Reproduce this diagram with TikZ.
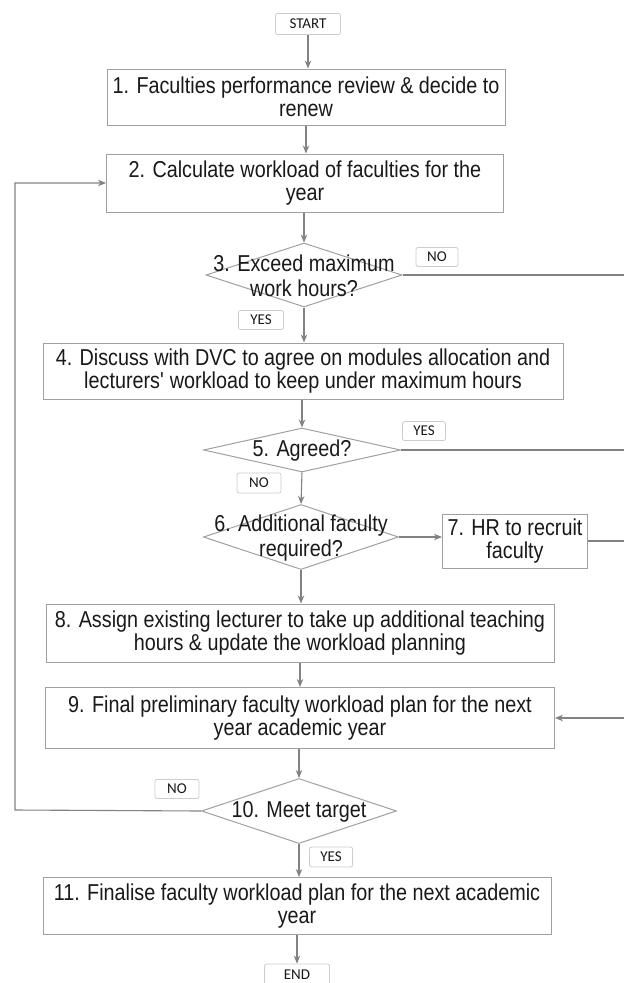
\documentclass[tikz,border=0pt]{standalone}
\usepackage{fontspec}
\setmainfont[FakeStretch=0.86]{Liberation Sans}
\newfontfamily\lblfont{Carlito}
\usetikzlibrary{shapes.geometric,arrows.meta}
\definecolor{boxc}{RGB}{160,160,160}
\definecolor{arrc}{RGB}{130,130,130}
\definecolor{txtc}{RGB}{25,25,25}
\definecolor{lblc}{RGB}{205,205,205}
\begin{document}
\begin{tikzpicture}[x=1pt,y=-1pt,
  procbox/.style={draw=boxc, line width=1pt, fill=white, inner sep=0pt, align=center, text=txtc, font=\fontsize{23}{23.5}\selectfont},
  decbox/.style={draw=boxc, line width=1pt, diamond, inner sep=0pt},
  dectext/.style={align=center, text=txtc, inner sep=0pt, font=\fontsize{23}{25}\selectfont},
  tag/.style={draw=lblc, line width=0.8pt, rounded corners=2pt, fill=white, inner sep=0pt, text=txtc, minimum width=43pt, minimum height=19pt, font=\lblfont\fontsize{15}{16}\selectfont},
  flow/.style={draw=arrc, line width=1.1pt, -{Stealth[length=8pt,width=6.5pt]}},
  plainline/.style={draw=arrc, line width=1.1pt}]
\useasboundingbox (0,0) rectangle (624,983);

\node[tag, minimum width=65pt, minimum height=21pt] (start) at (308,24) {START};
\node[procbox, minimum width=398pt, minimum height=56pt] (b1) at (306,97) {1. Faculties performance review \& decide to\\renew};
\node[procbox, minimum width=397pt, minimum height=58pt] (b2) at (305,183) {2. Calculate workload of faculties for the\\year};
\node[decbox, minimum width=196pt, minimum height=64pt] (d3) at (304,275) {};
\node[dectext] (t3) at (304,276) {3. Exceed maximum\\work hours?};
\node[tag, minimum width=42pt] (no3) at (437,257) {NO};
\node[tag, minimum width=45pt] (yes3) at (261,320) {YES};
\node[procbox, minimum width=520pt, minimum height=56pt] (b4) at (303,371) {4. Discuss with DVC to agree on modules allocation and\\lecturers\textquotesingle\ workload to keep under maximum hours};
\node[decbox, minimum width=197pt, minimum height=44pt] (d5) at (302,450) {};
\node[dectext] (t5) at (302,451) {5. Agreed?};
\node[tag] (yes5) at (424,431) {YES};
\node[tag, minimum width=44pt, minimum height=20pt] (no5) at (259,483) {NO};
\node[decbox, minimum width=195pt, minimum height=65pt] (d6) at (301,537) {};
\node[dectext] (t6) at (301,538) {6. Additional faculty\\required?};
\node[procbox, minimum width=145pt, minimum height=54pt] (b7) at (515,541) {7. HR to recruit\\faculty};
\node[procbox, minimum width=508pt, minimum height=58pt] (b8) at (300,633) {8. Assign existing lecturer to take up additional teaching\\hours \& update the workload planning};
\node[procbox, minimum width=509pt, minimum height=61pt] (b9) at (300,718) {9. Final preliminary faculty workload plan for the next\\year academic year};
\node[decbox, minimum width=195pt, minimum height=65pt] (d10) at (299,811) {};
\node[dectext] (t10) at (299,812) {10. Meet target};
\node[tag, minimum width=44pt] (no10) at (177,789) {NO};
\node[tag, minimum height=20pt] (yes10) at (331,857) {YES};
\node[procbox, minimum width=508pt, minimum height=57pt] (b11) at (297,906) {11. Finalise faculty workload plan for the next academic\\year};
\node[tag, minimum width=65pt, minimum height=22pt] (end) at (297,975) {END};

\coordinate (loopL) at (15,810);
\coordinate (rightX) at (640,0);

\draw[flow] (start.south) -- (start.south |- b1.north);
\draw[flow] (b1.south) -- (b1.south |- b2.north);
\draw[flow] (d3.north |- b2.south) -- (d3.north);
\draw[flow] (d3.south) -- (d3.south |- b4.north);
\draw[flow] (d5.north |- b4.south) -- (d5.north);
\draw[flow] (d5.south) -- (d6.north);
\draw[flow] (d6.east) -- (b7.west |- d6.east);
\draw[flow] (d6.south) -- (d6.south |- b8.north);
\draw[flow] (b9.north |- b8.south) -- (b9.north);
\draw[flow] (d10.north |- b9.south) -- (d10.north);
\draw[flow] (d10.south) -- (d10.south |- b11.north);
\draw[flow] (end.north |- b11.south) -- (end.north);
\draw[flow] (d10.west) -- (loopL) |- (b2.west);
\draw[plainline] (d3.east) -- (rightX |- d3.east) -- (rightX |- b9.east);
\draw[plainline] (d5.east) -- (rightX |- d5.east);
\draw[plainline] (b7.east) -- (rightX |- b7.east);
\draw[flow] (rightX |- b9.east) -- (b9.east);
\end{tikzpicture}
\end{document}
